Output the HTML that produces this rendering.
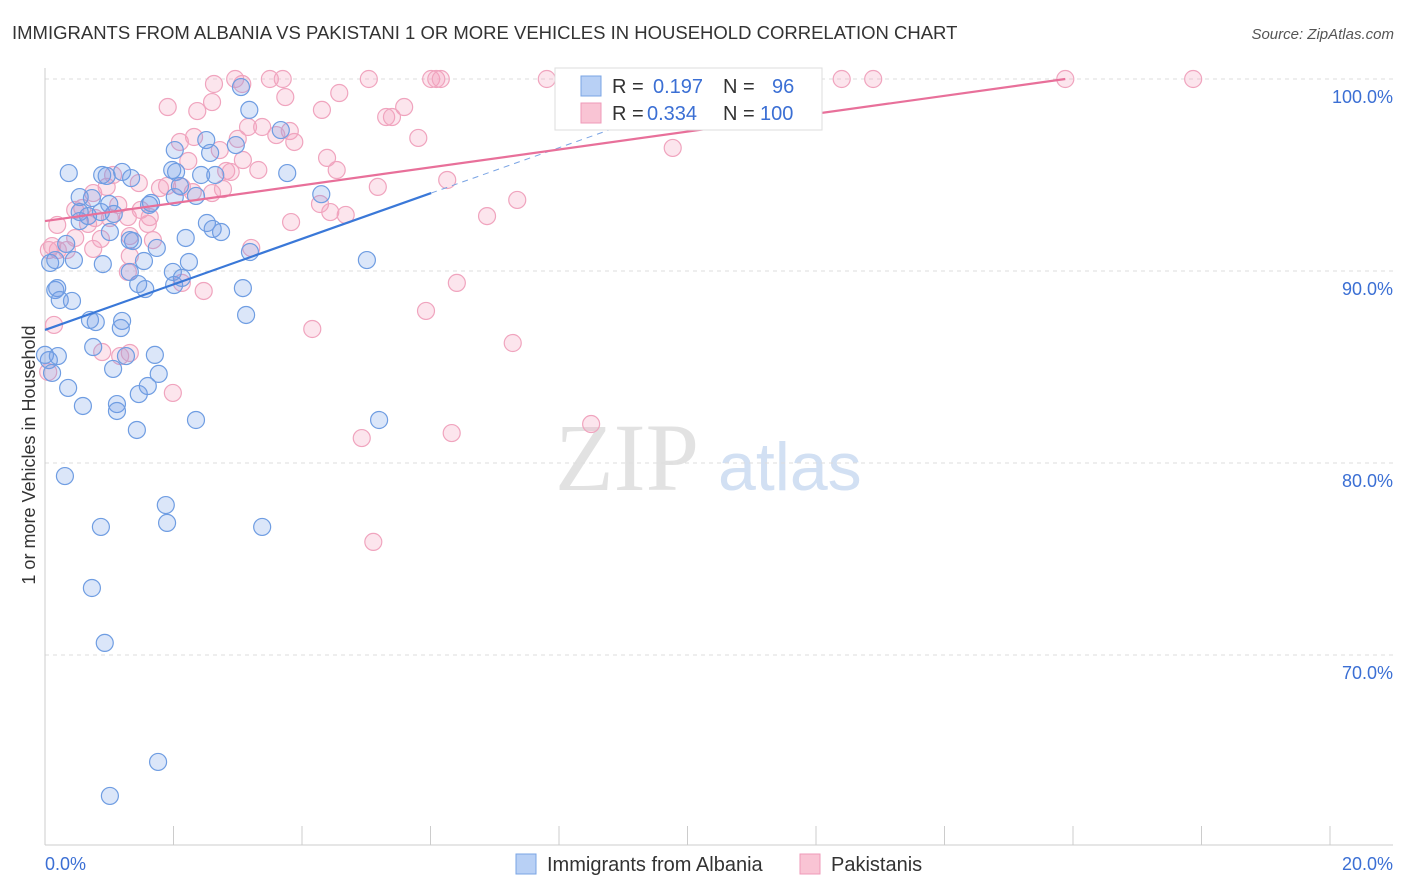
<!DOCTYPE html>
<html><head><meta charset="utf-8"><style>
body{margin:0;background:#fff;font-family:"Liberation Sans",sans-serif;}
svg{display:block}
</style></head><body>
<svg id="c" width="1406" height="892">
<text x="12" y="39" font-size="18.5" fill="#333">IMMIGRANTS FROM ALBANIA VS PAKISTANI 1 OR MORE VEHICLES IN HOUSEHOLD CORRELATION CHART</text>
<text x="1394" y="39" font-size="15" fill="#555" text-anchor="end" font-style="italic">Source: ZipAtlas.com</text>
<text x="35" y="455" font-size="18" fill="#333" text-anchor="middle" transform="rotate(-90 35 455)">1 or more Vehicles in Household</text>
<text x="555" y="490" font-size="96" fill="#e2e2e2" font-family="Liberation Serif,serif">ZIP</text>
<text x="718" y="490" font-size="68" fill="#d2e0f3">atlas</text>
<g id="grid"></g><g id="pts"></g><g id="lines"></g>
<g>
<rect x="555" y="68" width="267" height="62" fill="#fff" stroke="#ddd"/>
<rect x="581" y="76" width="20" height="20" fill="#b8d0f5" stroke="#7aa4e4"/>
<rect x="581" y="103" width="20" height="20" fill="#f9c4d4" stroke="#ef9ab8"/>
<text x="612" y="93" font-size="20" fill="#333">R = <tspan x="653" fill="#3b6fd4">0.197</tspan><tspan x="723">N = </tspan><tspan x="772" fill="#3b6fd4">96</tspan></text>
<text x="612" y="120" font-size="20" fill="#333">R = <tspan x="647" fill="#3b6fd4">0.334</tspan><tspan x="723">N = </tspan><tspan x="760" fill="#3b6fd4">100</tspan></text>
</g>
<g>
<rect x="516" y="854" width="20" height="20" fill="#b8d0f5" stroke="#7aa4e4"/>
<text x="547" y="871" font-size="20" fill="#333">Immigrants from Albania</text>
<rect x="800" y="854" width="20" height="20" fill="#f9c4d4" stroke="#ef9ab8"/>
<text x="831" y="871" font-size="20" fill="#333">Pakistanis</text>
</g>
</svg>
<script>
const yTicks=[70,80,90,100];
const xTickLabels=["0.0%","20.0%"];
const blueX=[.37,.89,1.2,1.34,2.1,2.04,2.65,2.97,3.18,3.05,3.67,3.77,4.3,5.01,5.2,3.38,1.88,1.9,.87,.73,.93,1.76,1.01,.31,.16,.19,.23,.42,.06,.11,0,.2,.36,.59,.7,.79,.75,1.06,1.12,1.12,1.43,1.46,1.6,1.71,1.77,1.2,1.18,1.26,1.32,1.45,1.54,1.56,1.74,1.99,2.01,2.13,2.24,2.35,2.51,2.57,2.52,2.61,2.74,3.19,3.08,3.13,2.35,2.19,1.07,1.01,.9,.67,.54,.54,.54,.45,.33,.87,1.0,.73,.96,1.62,1.65,1.98,2.02,2.43,2.02,.08,.16,1.37,1.32];
const blueY=[95.1,95,95.16,94.84,94.43,95.16,95,96.56,98.39,99.58,97.34,95.1,94,90.57,82.24,76.67,77.81,76.88,76.67,73.49,70.63,64.43,62.66,79.32,89.01,89.11,88.49,88.44,85.36,84.69,85.63,85.57,83.91,82.97,87.45,87.34,86.04,84.9,83.07,82.71,81.72,83.59,84.01,85.63,84.64,87.4,87.03,85.57,89.95,89.32,90.52,89.06,91.2,89.95,89.27,89.64,90.47,93.91,96.82,96.15,92.5,92.19,92.03,90.99,89.11,87.71,82.24,91.72,92.97,92.03,90.36,92.86,93.07,93.85,92.6,90.57,91.41,93.07,93.49,93.8,94.95,93.44,93.54,95.26,93.85,95,96.3,90.42,90.57,91.56,91.61];
const pinkX=[1.91,1.9,2.1,2.23,2.32,2.37,2.6,2.63,2.96,3.07,3.5,3.7,3.74,3.81,3.88,3.16,3.38,3.6,2.72,2.82,3.08,2.77,2.6,2.3,2.13,1.79,1.46,1.49,1.29,1.63,1.6,1.68,1.32,1.01,1.14,.96,1.06,.75,.78,.67,.58,.47,.19,.2,.34,.11,.06,.47,.75,.87,1.32,1.29,2.13,2.47,2.89,3.0,3.32,3.83,4.31,4.39,4.54,4.58,4.28,4.44,4.68,5.04,5.31,5.59,5.81,5.18,4.93,5.11,5.93,6.01,6.09,6.16,6.26,6.33,6.41,6.88,7.28,7.35,7.81,8.22,8.5,9.77,9.56,12.4,12.89,15.88,17.87,11.22,11.75,.14,.05,1.99,4.16,3.21,1.32,1.17,.89,5.4];
const pinkY=[98.54,94.43,96.72,95.73,96.98,98.33,98.8,99.74,100,99.74,100,100,99.06,97.29,96.72,97.5,97.5,97.08,96.3,95.21,95.78,94.27,94.06,94.11,94.38,94.32,94.58,93.18,92.81,92.81,92.45,91.61,91.82,92.76,93.44,94.38,95,94.06,92.76,92.45,93.28,93.18,92.4,91.09,91.09,91.3,91.09,91.72,91.15,91.67,90.78,89.95,89.38,88.96,95.16,96.88,95.26,92.55,98.39,95.89,95.26,99.27,93.49,93.07,92.92,100,98.02,98.54,96.93,94.38,81.3,75.89,87.92,100,100,100,94.74,81.56,89.38,92.86,86.25,93.7,100,100,82.03,96.41,100,100,100,100,100,100,100,87.19,84.74,83.65,86.98,91.2,85.73,85.57,85.78,98.02];
const blueTrend=[0,86.93,6.01,94.06,9.5,98.2];
const pinkTrend=[0,92.6,15.88,100];
const X=v=>45+v*64.25, Y=v=>79+(100-v)*19.2;
const NS="http://www.w3.org/2000/svg";
function mk(t,a,p){const e=document.createElementNS(NS,t);for(const k in a)e.setAttribute(k,a[k]);p.appendChild(e);return e;}
const g=document.getElementById('grid');
yTicks.forEach(t=>{
 const l=mk('line',{x1:45,x2:1393,y1:Y(t),y2:Y(t),stroke:'#ddd','stroke-dasharray':'4,4'},g);
 
 
 const tx=mk('text',{x:1393,y:Y(t)+24,'font-size':18,fill:'#3b6fd4','text-anchor':'end'},g);
 tx.textContent=t.toFixed(1)+'%';
 
 
});
mk('line',{x1:45,x2:45,y1:68,y2:845,stroke:'#ccc'},g);
mk('line',{x1:45,x2:1393,y1:845,y2:845,stroke:'#ccc'},g);
for(let i=0;i<=10;i++){const l=mk('line',{x1:X(i*2),x2:X(i*2),y1:826,y2:845,stroke:'#ccc'},g);
 
 }
const xl0=mk('text',{x:45,y:870,'font-size':18,fill:'#3b6fd4'},g);xl0.textContent=xTickLabels[0];


const xl1=mk('text',{x:1393,y:870,'font-size':18,fill:'#3b6fd4','text-anchor':'end'},g);xl1.textContent=xTickLabels[1];


const p=document.getElementById('pts');
pinkX.forEach((x,i)=>{const c=mk('circle',{cx:X(x),cy:Y(pinkY[i]),r:8.5,fill:'rgba(244,160,190,0.28)',stroke:'#f0a4be','stroke-width':1.2},p);
 
 });
blueX.forEach((x,i)=>{const c=mk('circle',{cx:X(x),cy:Y(blueY[i]),r:8.5,fill:'rgba(110,155,230,0.25)',stroke:'#6f9de2','stroke-width':1.2},p);
 
 });
const L=document.getElementById('lines');
const b1=mk('line',{x1:X(blueTrend[0]),y1:Y(blueTrend[1]),x2:X(blueTrend[2]),y2:Y(blueTrend[3]),stroke:'#3a78d8','stroke-width':2.2},L);


const b2=mk('line',{x1:X(blueTrend[2]),y1:Y(blueTrend[3]),x2:X(blueTrend[4]),y2:Y(blueTrend[5]),stroke:'#7aa4e4','stroke-width':1,'stroke-dasharray':'6,5'},L);


const p1=mk('line',{x1:X(pinkTrend[0]),y1:Y(pinkTrend[1]),x2:X(pinkTrend[2]),y2:Y(pinkTrend[3]),stroke:'#e8709a','stroke-width':2.2},L);


</script>
</body></html>
